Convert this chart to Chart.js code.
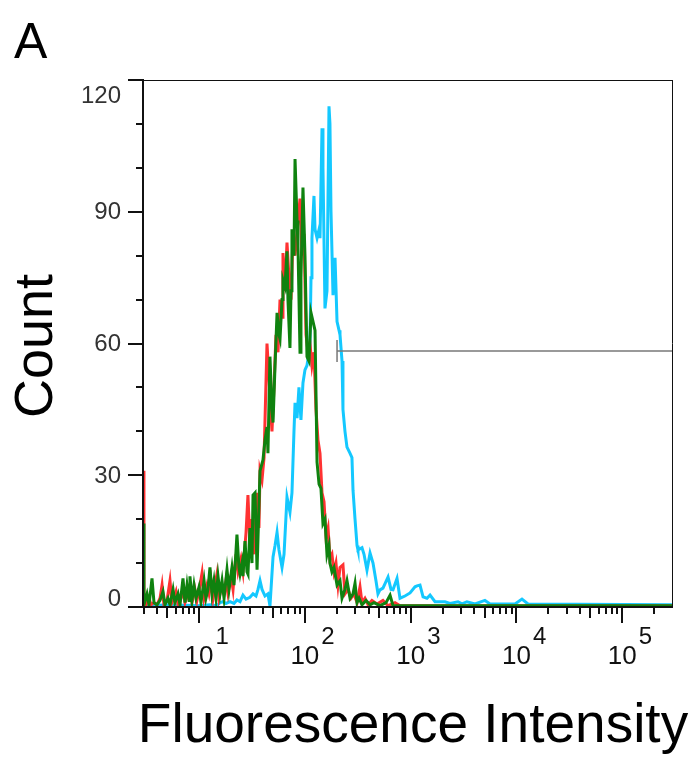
<!DOCTYPE html>
<html><head><meta charset="utf-8">
<script src="https://cdn.jsdelivr.net/npm/chart.js@4/dist/chart.umd.min.js"></script>
<style>html,body{margin:0;padding:0;background:#fff;}#wrap{width:695px;height:762px;position:relative;}</style>
</head><body><div id="wrap"><canvas id="c" width="695" height="762"></canvas></div>
<script>
// ---- text ----
const panelLabel = 'A';
const yTitle = 'Count';
const xTitle = 'Fluorescence Intensity';
// ---- axes (x in log10 units of fluorescence) ----
const xRange = [0.47, 5.47];
const yRange = [0, 120];
const yTickValues = [0, 30, 60, 90, 120];
const yMinorValues = [10, 20, 40, 50, 70, 80, 100, 110];
const xDecades = [1, 2, 3, 4, 5];
const xMinorMultipliers = [2, 3, 4, 5, 6, 7, 8, 9];
// ---- gate marker ----
const gateCount = 58.3;
const gateStartLog = 2.304;
// ---- histograms: [log10 intensity, count] ----
const redSeries = [[0.470,31],[0.479,1],[0.498,0.5],[0.527,2],[0.546,0.5],[0.574,1],[0.602,0.5],[0.631,2],[0.650,5],[0.668,0.5],[0.697,1.5],[0.725,6],[0.744,1],[0.763,2],[0.782,3.5],[0.801,0.5],[0.829,2],[0.848,4],[0.867,1],[0.895,3],[0.914,5],[0.933,1],[0.961,4],[0.980,1.5],[1.009,5],[1.028,7.7],[1.047,2],[1.075,5],[1.094,3],[1.113,6],[1.132,2],[1.151,5],[1.169,7.5],[1.188,2],[1.217,5],[1.236,3],[1.254,6],[1.273,3],[1.302,7],[1.321,4],[1.349,12],[1.368,8],[1.396,11],[1.415,8],[1.444,17],[1.462,25.5],[1.481,14],[1.500,20],[1.519,12],[1.548,26],[1.566,18],[1.576,31],[1.595,29],[1.614,34],[1.642,60],[1.661,52],[1.689,40],[1.708,50],[1.727,62],[1.746,58],[1.765,70],[1.784,66],[1.793,80.6],[1.812,72],[1.831,83],[1.850,75],[1.869,70],[1.888,85],[1.907,80],[1.935,88],[1.954,93],[1.973,80],[1.992,85],[2.011,62],[2.030,58],[2.048,60],[2.067,55],[2.086,58],[2.105,45],[2.124,38],[2.143,35],[2.162,26],[2.181,24],[2.200,16],[2.219,18],[2.237,11],[2.256,12],[2.275,8],[2.294,10],[2.313,5],[2.332,9],[2.360,9.6],[2.379,3],[2.408,4],[2.436,2],[2.464,3],[2.493,1],[2.521,4.6],[2.540,1],[2.568,2],[2.597,0.5],[2.634,1.5],[2.682,0.7],[2.738,1.5],[2.786,0.3],[2.852,1],[2.899,0.3],[5.470,0.3]];
const greenSeries = [[0.470,19],[0.479,0.5],[0.508,3],[0.527,0.5],[0.555,6.5],[0.574,1],[0.602,0.5],[0.631,1.5],[0.659,3.5],[0.678,0.5],[0.706,2],[0.725,0.5],[0.754,4],[0.772,1],[0.801,3],[0.820,0.5],[0.848,6.5],[0.867,1],[0.886,5],[0.905,1.5],[0.914,7],[0.933,1.5],[0.952,5],[0.971,2],[0.999,4.5],[1.018,1],[1.047,6],[1.065,2],[1.084,4],[1.103,9],[1.122,3],[1.141,6],[1.160,2],[1.179,7],[1.198,3],[1.217,6],[1.236,2],[1.264,8.5],[1.283,4],[1.311,9],[1.330,5],[1.358,16.5],[1.377,9],[1.387,7.5],[1.406,10],[1.415,7],[1.434,15],[1.453,8],[1.462,7.5],[1.481,18],[1.500,10],[1.510,25.5],[1.529,26],[1.548,8.5],[1.576,31],[1.604,33.5],[1.623,38],[1.642,41],[1.651,35],[1.670,57],[1.689,45],[1.699,42],[1.718,55],[1.737,67],[1.755,62],[1.765,61],[1.784,70],[1.793,74.5],[1.812,73],[1.831,81],[1.840,70],[1.859,59],[1.869,72],[1.878,86],[1.897,80],[1.907,102],[1.926,88],[1.935,82],[1.954,58],[1.963,75],[1.982,95.5],[2.001,80],[2.020,57],[2.039,56],[2.058,67],[2.077,65],[2.096,63],[2.115,33],[2.134,28],[2.152,27],[2.171,19],[2.190,20],[2.209,12],[2.228,14],[2.237,10],[2.256,8],[2.275,9],[2.304,5],[2.332,6],[2.351,2],[2.379,4],[2.398,6],[2.427,2],[2.455,3],[2.474,5.4],[2.493,1],[2.512,2],[2.540,0.5],[2.578,1.5],[2.616,0.5],[2.653,1],[2.710,0.3],[2.767,1],[2.805,2.7],[2.833,0.3],[5.470,0.3]];
const cyanSeries = [[0.470,2],[0.489,0.3],[0.725,0.5],[1.009,0.3],[1.103,0.5],[1.169,0.3],[1.198,1],[1.226,1.2],[1.254,0.8],[1.292,1.2],[1.330,0.8],[1.358,1.6],[1.387,1.2],[1.415,2.7],[1.444,1.8],[1.481,2.2],[1.510,3],[1.538,2.5],[1.557,4],[1.576,6],[1.595,4],[1.623,2.5],[1.651,3],[1.670,0.2],[1.699,11.4],[1.718,14],[1.737,17],[1.755,13],[1.784,9],[1.803,12],[1.831,25],[1.859,21.6],[1.878,26],[1.897,40],[1.907,46.5],[1.926,43],[1.944,50],[1.963,42.6],[1.982,51],[2.001,54],[2.020,55],[2.039,58],[2.048,60],[2.058,75],[2.067,84],[2.086,93.6],[2.096,86],[2.115,84],[2.134,86],[2.143,84],[2.162,109],[2.171,100],[2.190,68],[2.209,72],[2.228,114],[2.237,110],[2.247,90],[2.266,71],[2.285,79.5],[2.304,65],[2.323,63],[2.332,62],[2.351,56],[2.360,45],[2.379,40],[2.398,36.4],[2.427,35],[2.445,34],[2.455,26.6],[2.474,20],[2.493,14],[2.502,13],[2.540,13.5],[2.559,12],[2.587,8.4],[2.616,12.3],[2.644,10],[2.672,6],[2.691,3],[2.710,3.9],[2.738,4.3],[2.786,6.8],[2.814,4],[2.833,3.9],[2.871,6.5],[2.899,2],[2.946,2.5],[2.994,3.2],[3.041,4.6],[3.060,4.8],[3.088,5],[3.117,2.3],[3.154,2],[3.183,2.7],[3.230,1.2],[3.324,1.2],[3.372,0.8],[3.447,1.2],[3.485,0.7],[3.532,1.2],[3.608,0.7],[3.702,1.5],[3.750,0.7],[3.986,0.7],[4.052,1.8],[4.109,0.7],[5.470,0.5]];

const toPts = s => s.map(([x, y]) => ({x, y}));
const FONT = '"Liberation Sans", Arial, sans-serif';

const axesPlugin = {
  id: 'flowAxes',
  afterDatasetsDraw(chart) {
    const {ctx, chartArea: a, scales: {x, y}} = chart;
    const L = Math.round(a.left), R = Math.round(a.right), T = Math.round(a.top), B = Math.round(a.bottom);
    const seg = (x1, y1, x2, y2) => { ctx.beginPath(); ctx.moveTo(x1, y1); ctx.lineTo(x2, y2); ctx.stroke(); };
    ctx.save();
    ctx.strokeStyle = '#111';
    // top & right frame
    ctx.lineWidth = 1;
    seg(L, T + 0.5, R + 1, T + 0.5);
    seg(R + 0.5, T, R + 0.5, B);
    // left & bottom axes
    ctx.lineWidth = 2;
    seg(L, T - 1, L, B + 1);
    seg(L - 1, B, R + 1, B);
    // y ticks
    yTickValues.forEach(v => { const p = Math.round(y.getPixelForValue(v)); seg(L - 15, p, L, p); });
    yMinorValues.forEach(v => { const p = Math.round(y.getPixelForValue(v)); seg(L - 7, p, L, p); });
    // x ticks
    for (let n = 0; n <= 5; n++) {
      if (n >= xRange[0] && n <= xRange[1]) { const p = Math.round(x.getPixelForValue(n)); seg(p, B, p, B + 16); }
      xMinorMultipliers.forEach(m => {
        const v = n + Math.log10(m);
        if (v < xRange[0] - 0.005 || v > xRange[1] + 0.005) return;
        const p = Math.round(x.getPixelForValue(v));
        seg(p, B, p, B + (m === 5 ? 11 : 7));
      });
    }
    // y labels
    ctx.fillStyle = '#333';
    ctx.font = '24px ' + FONT;
    ctx.textAlign = 'right';
    ctx.textBaseline = 'middle';
    yTickValues.forEach(v => {
      let p = y.getPixelForValue(v);
      if (v === yRange[0]) p -= 8; else if (v === yRange[1]) p += 16; else p += 1;
      ctx.fillText(String(v), L - 22, p);
    });
    // x labels 10^n
    ctx.fillStyle = '#111';
    xDecades.forEach(n => {
      const p = x.getPixelForValue(n);
      ctx.font = '26px ' + FONT;
      ctx.textAlign = 'center';
      ctx.fillText('10', p, B + 50);
      const w = ctx.measureText('10').width;
      ctx.font = '24px ' + FONT;
      ctx.textAlign = 'left';
      ctx.fillText(String(n), p + w / 2 + 2, B + 30);
    });
    // titles
    ctx.fillStyle = '#000';
    ctx.textBaseline = 'alphabetic';
    ctx.font = '50px ' + FONT;
    ctx.textAlign = 'left';
    ctx.fillText(panelLabel, 14, 58);
    ctx.font = '55px ' + FONT;
    ctx.textAlign = 'center';
    ctx.fillText(xTitle, 413, 742);
    ctx.translate(52, 346);
    ctx.rotate(-Math.PI / 2);
    ctx.font = '54px ' + FONT;
    ctx.fillText(yTitle, 0, 0);
    ctx.restore();
  }
};

const lineDs = (label, data, color, order, width) => ({
  label, data, borderColor: color, backgroundColor: color, borderWidth: width,
  pointRadius: 0, tension: 0, fill: false, order, borderJoinStyle: 'miter'
});

new Chart(document.getElementById('c'), {
  type: 'line',
  data: {
    datasets: [
      lineDs('gate', [{x: gateStartLog, y: gateCount}, {x: xRange[1], y: gateCount}], '#777', 0, 1.5),
      lineDs('gateEnd', [{x: gateStartLog, y: gateCount - 2.5}, {x: gateStartLog, y: gateCount + 2.5}], '#777', 0, 1.5),
      lineDs('green', toPts(greenSeries), '#0f820f', 1, 3),
      lineDs('red', toPts(redSeries), '#ff3232', 2, 3),
      lineDs('cyan', toPts(cyanSeries), '#14c8ff', 3, 3)
    ]
  },
  options: {
    responsive: false,
    animation: false,
    devicePixelRatio: 1,
    layout: {padding: {left: 143, top: 80, right: 23, bottom: 155}},
    plugins: {legend: {display: false}, tooltip: {enabled: false}},
    scales: {
      x: {type: 'linear', min: xRange[0], max: xRange[1], display: false},
      y: {type: 'linear', min: yRange[0], max: yRange[1], display: false}
    }
  },
  plugins: [axesPlugin]
});
</script></body></html>
